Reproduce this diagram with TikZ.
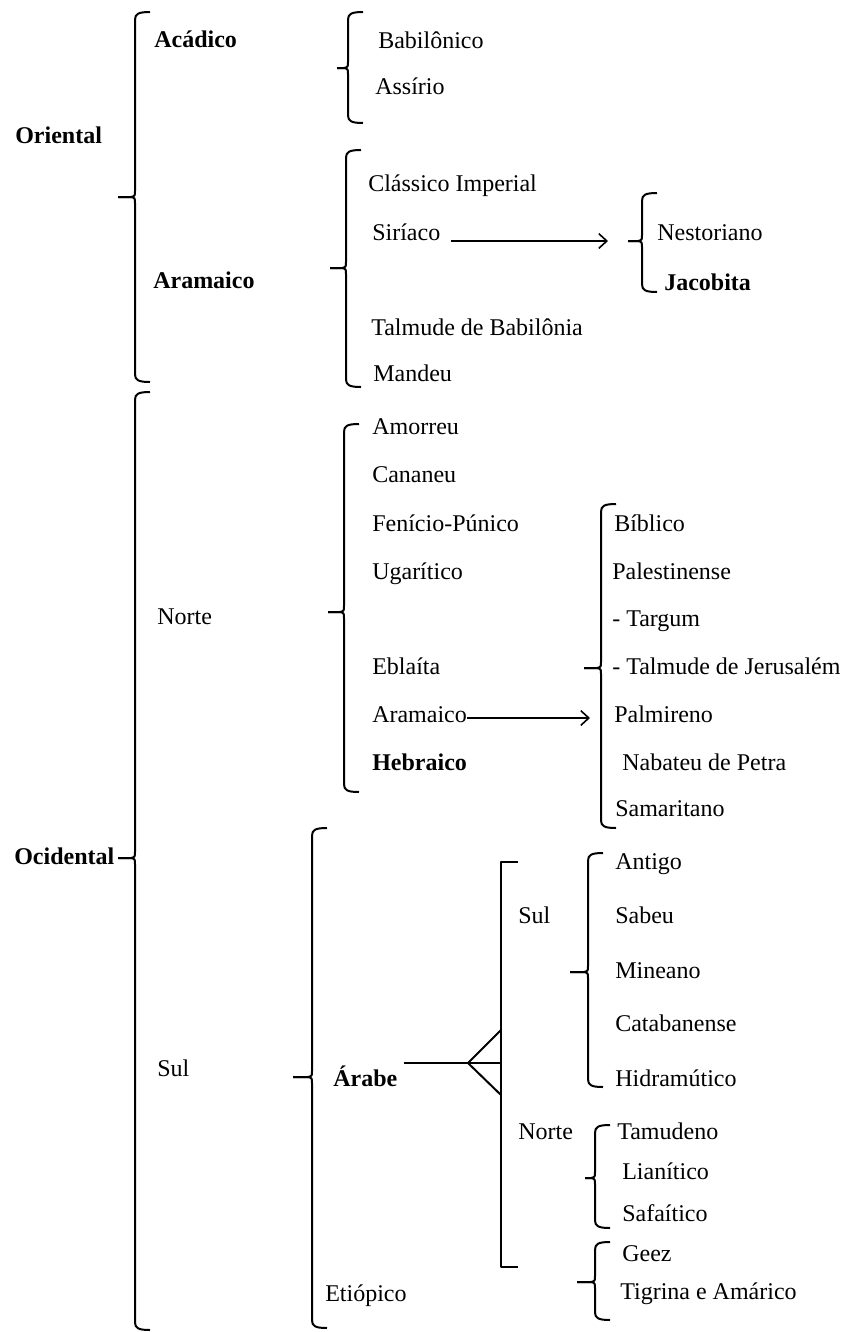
\documentclass[tikz,border=0pt]{standalone}
\usepackage{fontspec}
\setmainfont{Liberation Serif}
\usetikzlibrary{arrows.meta}

\tikzset{
  lbl/.style={anchor=west, inner sep=0pt, text height=0.68em, text depth=0pt,
    yshift=-1.5pt, font=\fontsize{18}{20}\selectfont},
  hd/.style={lbl, font=\fontsize{18}{20}\selectfont\bfseries},
  brline/.style={line width=1.5pt, line join=round},
  arr/.style={line width=1.2pt, -{Straight Barb[length=6pt,width=11pt,line width=1.2pt]}},
}

% brace: x, top, bottom, middle, tip x
\newcommand{\brc}[5]{%
  \draw[brline] (#1+15,#2) .. controls (#1+3,#2) and (#1,#2+2) .. (#1,#2+8)
    -- (#1,#4-6) .. controls (#1,#4-1) .. (#1-4,#4) -- (#5,#4);
  \draw[brline] (#5,#4) -- (#1-4,#4) .. controls (#1,#4+1) .. (#1,#4+6)
    -- (#1,#3-8) .. controls (#1,#3-2) and (#1+3,#3) .. (#1+15,#3);
}

\begin{document}
\begin{tikzpicture}[x=0.75pt, y=-0.75pt]
    \useasboundingbox (0,0) rectangle (853,1332);

    % Oriental
    \node[hd] (orient) at (15,137) {Oriental};
    \brc{135}{12}{382}{197}{118}
    \node[hd] (acad) at (154,41) {Acádico};
    \node[hd] (arama) at (153,282) {Aramaico};

    \brc{348}{12}{123}{68}{337}
    \node[lbl] (babil) at (378,42) {Babilônico};
    \node[lbl] (assir) at (375,88) {Assírio};

    \brc{346}{150}{387}{268}{330}
    \node[lbl] (classico) at (368,185) {Clássico Imperial};
    \node[lbl] (siriaco) at (372,234) {Siríaco};
    \node[lbl] (talbab) at (371,329) {Talmude de Babilônia};
    \node[lbl] (mandeu) at (373,375) {Mandeu};

    \coordinate (siritip) at (608,241);
    \draw[arr] ([xshift=8pt]siriaco.east |- siritip) -- (siritip);
    \brc{642}{193}{292}{241}{628}
    \node[lbl] (nestor) at (657,234) {Nestoriano};
    \node[hd] (jacob) at (664,284) {Jacobita};

    % Ocidental
    \node[hd] (ocid) at (14,858) {Ocidental};
    \brc{135}{392}{1330}{858}{118}
    \node[lbl] (norte) at (157,618) {Norte};

    \brc{344}{424}{792}{612}{328}
    \node[lbl] (amorreu) at (372,428) {Amorreu};
    \node[lbl] (cananeu) at (372,476) {Cananeu};
    \node[lbl] (fenicio) at (372,525) {Fenício-Púnico};
    \node[lbl] (ugar) at (372,573) {Ugarítico};
    \node[lbl] (ebla) at (372,668) {Eblaíta};
    \node[lbl] (aramN) at (372,716) {Aramaico};
    \node[hd] (hebr) at (372,764) {Hebraico};

    \coordinate (biblitip) at (590,718);
    \draw[arr] (aramN.east |- biblitip) -- (biblitip);
    \brc{601}{504}{828}{668}{584}
    \node[lbl] (biblico) at (614,525) {Bíblico};
    \node[lbl] (palest) at (612,573) {Palestinense};
    \node[lbl] (targum) at (612,620) {- Targum};
    \node[lbl] (taljer) at (612,668) {- Talmude de Jerusalém};
    \node[lbl] (palmir) at (614,716) {Palmireno};
    \node[lbl] (nabat) at (622,764) {Nabateu de Petra};
    \node[lbl] (samar) at (615,810) {Samaritano};

    \node[lbl] (sul) at (157,1070) {Sul};
    \brc{312}{828}{1328}{1077}{293}
    \node[hd] (arabe) at (333,1080) {Árabe};
    \node[lbl] (etiop) at (325,1295) {Etiópico};

    % forquilha do Arabe
    \coordinate (apex) at (468,1063);
    \draw[brline] ([xshift=5pt]arabe.east |- apex) -- (apex) -- (501,1063);
    \draw[brline] (501,1030) -- (apex) -- (501,1095);
    \draw[brline] (518,862) -- (501,862) -- (501,1267) -- (518,1267);
    \node[lbl] (sulA) at (518,917) {Sul};
    \node[lbl] (norteA) at (518,1133) {Norte};

    \brc{588}{853}{1087}{972}{570}
    \node[lbl] (antigo) at (615,863) {Antigo};
    \node[lbl] (sabeu) at (615,917) {Sabeu};
    \node[lbl] (mineano) at (615,972) {Mineano};
    \node[lbl] (cataban) at (615,1025) {Catabanense};
    \node[lbl] (hidram) at (615,1080) {Hidramútico};

    \brc{595}{1125}{1228}{1178}{585}
    \node[lbl] (tamud) at (617,1133) {Tamudeno};
    \node[lbl] (lianit) at (622,1173) {Lianítico};
    \node[lbl] (safait) at (622,1215) {Safaítico};

    \brc{595}{1242}{1320}{1282}{577}
    \node[lbl] (geez) at (622,1255) {Geez};
    \node[lbl] (tigrina) at (620,1293) {Tigrina e Amárico};
\end{tikzpicture}
\end{document}
